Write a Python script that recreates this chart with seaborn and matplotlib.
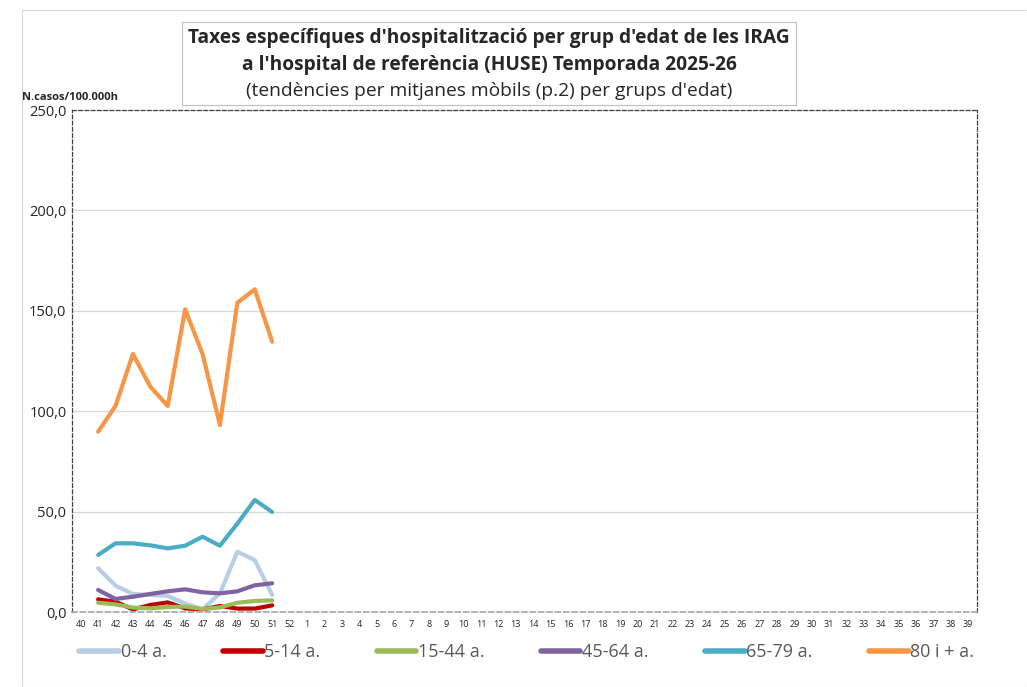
import pandas as pd
import numpy as np
import matplotlib
matplotlib.use("Agg")
import matplotlib.pyplot as plt
import seaborn as sns
from matplotlib.patches import Rectangle

# setmanes epidemiològiques de la temporada
weeks = [str(w) for w in list(range(40, 53)) + list(range(1, 40))]
data_weeks = [str(w) for w in range(41, 52)]

groups = ["0-4 a.", "5-14 a.", "15-44 a.", "45-64 a.", "65-79 a.", "80 i + a."]
colors = ["#B9CDE5", "#C00000", "#9BBB59", "#8064A2", "#4BACC6", "#F79646"]

g_0_4 = [21.8, 13.1, 9.0, 8.5, 8.0, 4.3, 1.3, 9.3, 30.0, 25.9, 8.5]
g_5_14 = [6.3, 5.1, 1.3, 3.5, 4.8, 1.8, 1.3, 3.0, 1.7, 1.7, 3.3]
g_15_44 = [4.6, 3.8, 2.2, 1.8, 2.5, 2.7, 1.5, 2.3, 4.6, 5.5, 5.8]
g_45_64 = [11.0, 6.5, 7.6, 9.0, 10.3, 11.3, 9.8, 9.3, 10.3, 13.3, 14.3]
g_65_79 = [28.4, 34.2, 34.2, 33.2, 31.7, 33.0, 37.5, 33.0, 44.0, 55.8, 49.8]
g_80 = [89.8, 102.6, 128.5, 112.2, 102.6, 150.7, 128.5, 93.1, 154.0, 160.7, 134.6]

series = [g_0_4, g_5_14, g_15_44, g_45_64, g_65_79, g_80]

rows = []
for name, vals in zip(groups, series):
    for w, v in zip(data_weeks, vals):
        rows.append({"pos": weeks.index(w), "grup": name, "taxa": v})
df = pd.DataFrame(rows)

sns.set_style("white")
plt.rcParams["font.family"] = ["Open Sans", "DejaVu Sans"]

fig = plt.figure(figsize=(10.27, 6.87), dpi=100)
ax = fig.add_axes([72 / 1027, 75 / 687, 905 / 1027, 502 / 687])

sns.lineplot(data=df, x="pos", y="taxa", hue="grup", hue_order=groups,
             palette=colors, linewidth=3.0, ax=ax, legend=False,
             solid_capstyle="round")

ax.set_xlim(-0.5, len(weeks) - 0.5)
ax.set_ylim(0, 250)
ax.set_yticks([0, 50, 100, 150, 200, 250])
ax.set_yticklabels([f"{v:.1f}".replace(".", ",") for v in [0, 50, 100, 150, 200, 250]],
                   fontsize=10.5)
ax.set_xticks(range(len(weeks)))
ax.set_xticklabels(weeks, fontsize=6.5)
ax.set_xticks(np.arange(-0.5, len(weeks), 1), minor=True)
ax.tick_params(axis="x", which="major", length=0, pad=6)
ax.tick_params(axis="x", which="minor", length=3, color="#BFBFBF")
ax.tick_params(axis="y", length=0, pad=4)
ax.set_xlabel("")
ax.set_ylabel("")
ax.grid(axis="y", color="#D9D9D9", linewidth=0.9)
ax.set_axisbelow(True)

for side in ["top", "right", "left"]:
    ax.spines[side].set_linestyle((0, (3, 2)))
    ax.spines[side].set_color("#404040")
    ax.spines[side].set_linewidth(0.9)
ax.spines["bottom"].set_linestyle((0, (3, 2)))
ax.spines["bottom"].set_color("#A6A6A6")
ax.spines["bottom"].set_linewidth(1.2)

# vora exterior del gràfic
fig.patches.append(Rectangle((22 / 1027, 0), 1 - 22 / 1027, 1 - 10 / 687,
                             transform=fig.transFigure, fill=False,
                             edgecolor="#D9D9D9", linewidth=0.8))

# títol en una caixa
fig.patches.append(Rectangle((182 / 1027, 1 - 105 / 687), 614 / 1027, 83 / 687,
                             transform=fig.transFigure, fill=True,
                             facecolor="white", edgecolor="#BFBFBF",
                             linewidth=0.8, zorder=5))
fig.text(489 / 1027, 1 - 38 / 687,
         "Taxes específiques d'hospitalització per grup d'edat de les IRAG",
         ha="center", va="center", fontsize=13.8, fontweight="bold", zorder=6)
fig.text(489 / 1027, 1 - 65 / 687,
         "a l'hospital de referència (HUSE) Temporada 2025-26",
         ha="center", va="center", fontsize=13.8, fontweight="bold", zorder=6)
fig.text(489 / 1027, 1 - 91 / 687,
         "(tendències per mitjanes mòbils (p.2) per grups d'edat)",
         ha="center", va="center", fontsize=13.8, zorder=6)

fig.text(22 / 1027, 1 - 98 / 687, "N.casos/100.000h", ha="left", va="center",
         fontsize=8, fontweight="bold")

handles = [plt.Line2D([], [], color=c, linewidth=4, solid_capstyle="round")
           for c in colors]
fig.legend(handles, groups, loc="center", bbox_to_anchor=(0.513, 1 - 652 / 687),
           ncol=6, frameon=False, fontsize=13, labelcolor="#595959",
           handlelength=2.2, handletextpad=0.1, columnspacing=3.1)

fig.savefig("out.png", dpi=100)
